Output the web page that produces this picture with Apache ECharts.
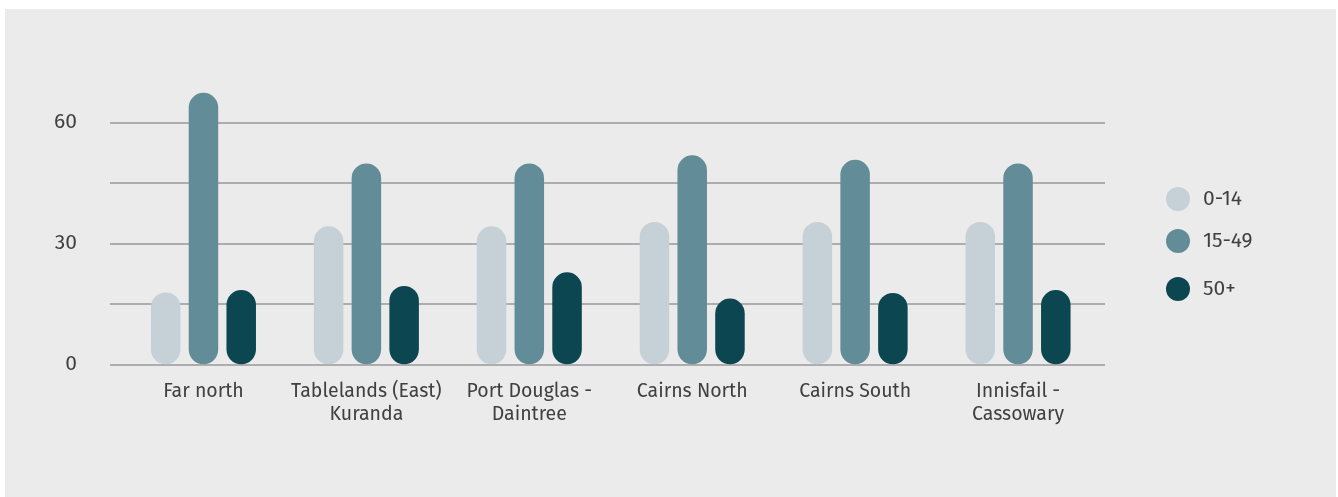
<!DOCTYPE html>
<html>
<head>
<meta charset="utf-8">
<title>Age groups by area</title>
<script src="https://cdn.jsdelivr.net/npm/echarts@6/dist/echarts.min.js"></script>
<style>
  html, body { margin: 0; padding: 0; background: #ffffff; }
  #chart { width: 1338px; height: 497px; }
</style>
</head>
<body>
<div id="chart"></div>
<script>
// Areas along the x axis
const categories = [
  'Far north',
  'Tablelands (East)\nKuranda',
  'Port Douglas -\nDaintree',
  'Cairns North',
  'Cairns South',
  'Innisfail -\nCassowary'
];

// Age group series
const seriesNames = ['0-14', '15-49', '50+'];
const age0to14 = [17.8, 34.2, 34.2, 35.3, 35.3, 35.3];
const age15to49 = [67.3, 49.8, 49.8, 51.8, 50.7, 49.8];
const age50plus = [18.4, 19.4, 22.8, 16.3, 17.7, 18.4];

// Value axis ticks
const yTicks = [0, 15, 30, 45, 60];
const yTickLabels = ['0', '30', '60'];

const colors = ['#c5d1d6', '#618c98', '#0c4650'];
const textColor = '#404040';
const fontFamily = '"Fira Sans", "Noto Sans", sans-serif';

const chart = echarts.init(document.getElementById('chart'));

function barSeries(name, data, color) {
  return {
    name: name,
    type: 'bar',
    xAxisIndex: 1,
    yAxisIndex: 1,
    data: data,
    barWidth: 29.5,
    barGap: '28%',
    itemStyle: { color: color, borderRadius: 15 },
    emphasis: { disabled: true }
  };
}

const legendTops = [187, 229, 277];

chart.setOption({
  animation: false,
  backgroundColor: 'transparent',
  graphic: [{
    type: 'rect',
    z: -10,
    silent: true,
    shape: { x: 5, y: 9, width: 1331, height: 488 },
    style: { fill: '#ebebeb' }
  }],
  legend: seriesNames.map((n, i) => ({
    data: [n],
    left: 1166,
    top: legendTops[i],
    padding: 0,
    orient: 'vertical',
    icon: 'circle',
    itemWidth: 24,
    itemHeight: 24,
    itemGap: 0,
    selectedMode: false,
    textStyle: { color: textColor, fontSize: 21, fontFamily: fontFamily, padding: [0, 0, 0, 8] }
  })),
  grid: [
    { left: 110, right: 233, top: 122.3, bottom: 132.7 },
    { left: 122, right: 238.5, top: 61.8, bottom: 132.7 }
  ],
  xAxis: [
    { gridIndex: 0, type: 'value', min: 0, max: 1, show: false },
    {
      gridIndex: 1,
      type: 'category',
      data: categories,
      axisLine: { show: false },
      axisTick: { show: false },
      axisLabel: {
        color: textColor,
        fontSize: 19.5,
        lineHeight: 23,
        fontFamily: fontFamily,
        margin: 16,
        interval: 0
      }
    }
  ],
  yAxis: [
    {
      gridIndex: 0,
      type: 'value',
      min: yTicks[0],
      max: yTicks[yTicks.length - 1],
      interval: yTicks[1] - yTicks[0],
      axisLine: { show: false },
      axisTick: { show: false },
      splitLine: { lineStyle: { color: '#adadb0', width: 2 } },
      axisLabel: {
        color: textColor,
        fontSize: 21,
        fontFamily: fontFamily,
        margin: 33,
        padding: [3, 0, 0, 0],
        formatter: v => (yTickLabels.indexOf(String(v)) >= 0 ? String(v) : '')
      }
    },
    {
      gridIndex: 1,
      type: 'value',
      min: 0,
      max: 75,
      show: false,
      splitLine: { show: false }
    }
  ],
  series: [
    barSeries(seriesNames[0], age0to14, colors[0]),
    barSeries(seriesNames[1], age15to49, colors[1]),
    barSeries(seriesNames[2], age50plus, colors[2])
  ]
});
</script>
</body>
</html>
